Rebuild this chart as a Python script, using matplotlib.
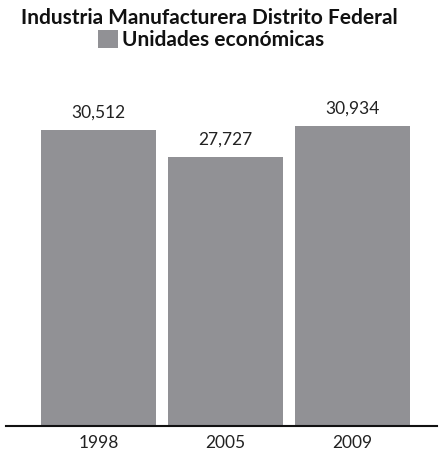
import matplotlib
matplotlib.use("Agg")
import matplotlib.pyplot as plt
from matplotlib.patches import Patch

years = ["1998", "2005", "2009"]
units = [30512, 27727, 30934]
value_labels = ["30,512", "27,727", "30,934"]

bar_color = "#919195"
plt.rcParams["font.family"] = ["Lato", "DejaVu Sans"]

fig = plt.figure(figsize=(4.41, 4.53), dpi=100)
ax = fig.add_axes([6 / 441, 27.3 / 453, 431 / 441, 1 - 100 / 453 - 27.3 / 453])

x = range(len(years))
bars = ax.bar(x, units, width=0.906, color=bar_color)
ax.set_xlim(-0.728, 2.665)
ax.set_ylim(0, 33612)

for rect, lab in zip(bars, value_labels):
    ax.annotate(lab, (rect.get_x() + rect.get_width() / 2, rect.get_height()),
                xytext=(0, 8.6), textcoords="offset points",
                ha="center", va="baseline", fontsize=12.5, color="#222222")

ax.set_xticks(list(x))
ax.set_xticklabels(years, fontsize=12.5, color="#222222")
ax.tick_params(axis="x", length=0, pad=7)
ax.set_yticks([])
for side in ("top", "left", "right"):
    ax.spines[side].set_visible(False)
ax.spines["bottom"].set_linewidth(1.5)
ax.spines["bottom"].set_color("#111111")

fig.text(209 / 441, 1 - 18 / 453, "Industria Manufacturera Distrito Federal",
         ha="center", va="center", fontsize=15, fontweight="bold", color="#111111")
fig.legend(handles=[Patch(facecolor=bar_color, edgecolor="none")],
           labels=["Unidades económicas"], loc="center",
           bbox_to_anchor=(211 / 441, 1 - 40 / 453), frameon=False,
           prop={"size": 15, "weight": "bold"}, handlelength=0.95, handleheight=1.0,
           handletextpad=0.2, borderpad=0, labelcolor="#111111")

fig.savefig("out.png", dpi=100)
